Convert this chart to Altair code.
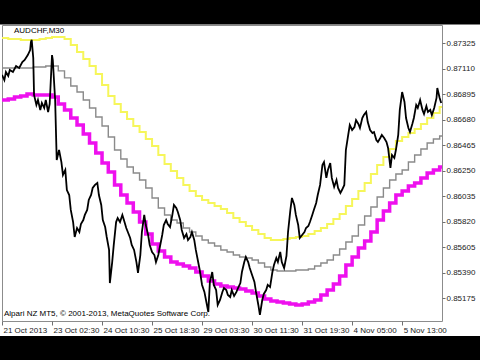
import json
import altair as alt
import pandas as pd

# ---------------- data ----------------
x_ticks = [0, 64, 128, 192, 256, 320, 384, 448, 512]
x_tick_labels = ["21 Oct 2013", "23 Oct 02:30", "24 Oct 10:30", "25 Oct 18:30",
                 "29 Oct 03:30", "30 Oct 11:30", "31 Oct 19:30", "4 Nov 05:00",
                 "5 Nov 13:00"]
y_ticks = [0.85175, 0.85390, 0.85605, 0.85820, 0.86035, 0.86250,
           0.86465, 0.86680, 0.86895, 0.87110, 0.87325]
bar_count = 563
step_bars = 8

price_bar = [0, 3, 5, 8, 10, 14, 18, 22, 26, 29, 33, 36, 37, 38, 40, 41, 44, 46, 49, 51,
             54, 56, 59, 61, 64, 65, 68, 70, 73, 76, 78, 81, 83, 86, 88, 91, 93, 96, 99, 101,
             104, 106, 109, 111, 114, 116, 119, 122, 124, 127, 129, 132, 134, 137, 138, 141, 143, 146, 148, 151,
             154, 156, 159, 161, 164, 166, 169, 172, 174, 177, 179, 182, 184, 187, 189, 192, 195, 197, 200, 202,
             205, 207, 210, 212, 215, 218, 220, 223, 225, 228, 230, 233, 236, 238, 241, 243, 246, 248, 251, 253,
             256, 259, 261, 264, 266, 269, 271, 274, 276, 279, 282, 284, 287, 289, 292, 294, 297, 300, 302, 305,
             307, 310, 312, 315, 317, 320, 323, 325, 328, 330, 333, 335, 338, 340, 343, 346, 348, 351, 353, 356,
             358, 361, 364, 366, 369, 371, 374, 376, 379, 381, 384, 387, 389, 392, 394, 397, 399, 402, 404, 407,
             410, 412, 415, 417, 420, 422, 425, 428, 430, 433, 435, 438, 440, 443, 445, 448, 451, 453, 456, 458,
             461, 463, 466, 468, 471, 474, 476, 479, 481, 484, 486, 489, 492, 494, 497, 499, 502, 504, 507, 509,
             512, 515, 517, 520, 522, 525, 527, 530, 532, 535, 538, 540, 543, 545, 548, 550, 553, 556, 557, 560,
             562]
price_close = [0.87056, 0.87013, 0.87081, 0.87047, 0.87098, 0.87081, 0.87131, 0.87115, 0.87165, 0.87182,
               0.87224, 0.87266, 0.87334, 0.87351, 0.87199, 0.86887, 0.86803, 0.86845, 0.86761, 0.86820,
               0.86778, 0.86845, 0.86744, 0.86811, 0.87224, 0.87182, 0.86845, 0.86339, 0.86423, 0.86322,
               0.86213, 0.86255, 0.86086, 0.86044, 0.85918, 0.85816, 0.85690, 0.85766, 0.85732, 0.85800,
               0.85833, 0.85876, 0.85918, 0.86002, 0.86044, 0.86103, 0.86129, 0.86146, 0.86044, 0.85960,
               0.85833, 0.85774, 0.85690, 0.85581, 0.85302, 0.85479, 0.85623, 0.85816, 0.85850, 0.85816,
               0.85876, 0.85833, 0.85766, 0.85732, 0.85682, 0.85623, 0.85581, 0.85479, 0.85387, 0.85538,
               0.85732, 0.85876, 0.85791, 0.85707, 0.85623, 0.85564, 0.85538, 0.85479, 0.85538, 0.85606,
               0.85707, 0.85791, 0.85833, 0.85800, 0.85774, 0.85876, 0.85960, 0.85935, 0.85901, 0.85833,
               0.85749, 0.85682, 0.85715, 0.85665, 0.85690, 0.85732, 0.85665, 0.85581, 0.85479, 0.85412,
               0.85286, 0.85227, 0.85159, 0.85058, 0.85311, 0.85395, 0.85286, 0.85243, 0.85117, 0.85159,
               0.85227, 0.85260, 0.85243, 0.85201, 0.85184, 0.85243, 0.85193, 0.85227, 0.85260, 0.85302,
               0.85395, 0.85479, 0.85521, 0.85479, 0.85429, 0.85370, 0.85311, 0.85227, 0.85117, 0.85033,
               0.85159, 0.85210, 0.85243, 0.85286, 0.85268, 0.85395, 0.85454, 0.85513, 0.85479, 0.85564,
               0.85479, 0.85429, 0.85530, 0.85732, 0.85918, 0.86019, 0.85960, 0.85876, 0.85791, 0.85682,
               0.85707, 0.85732, 0.85766, 0.85783, 0.85816, 0.85876, 0.85918, 0.85977, 0.86044, 0.86129,
               0.86297, 0.86322, 0.86188, 0.86255, 0.86314, 0.86188, 0.86112, 0.86171, 0.86103, 0.86061,
               0.86086, 0.86129, 0.86423, 0.86550, 0.86634, 0.86592, 0.86617, 0.86676, 0.86643, 0.86609,
               0.86693, 0.86718, 0.86744, 0.86659, 0.86592, 0.86567, 0.86575, 0.86508, 0.86491, 0.86525,
               0.86550, 0.86525, 0.86491, 0.86441, 0.86272, 0.86381, 0.86356, 0.86423, 0.86550, 0.86761,
               0.86912, 0.86828, 0.86693, 0.86609, 0.86575, 0.86643, 0.86693, 0.86803, 0.86778, 0.86845,
               0.86761, 0.86727, 0.86794, 0.86744, 0.86761, 0.86718, 0.86778, 0.86862, 0.86946, 0.86862,
               0.86820]

ma_yellow = [0.87368, 0.87359, 0.87359, 0.87351, 0.87351, 0.87351, 0.87359, 0.87368, 0.87376, 0.87376,
             0.87359, 0.87309, 0.87249, 0.87190, 0.87131, 0.87064, 0.86971, 0.86878, 0.86811, 0.86744,
             0.86685, 0.86625, 0.86575, 0.86516, 0.86457, 0.86381, 0.86305, 0.86247, 0.86188, 0.86129,
             0.86078, 0.86035, 0.86002, 0.85977, 0.85951, 0.85926, 0.85893, 0.85851, 0.85816, 0.85783,
             0.85749, 0.85715, 0.85682, 0.85665, 0.85665, 0.85673, 0.85682, 0.85690, 0.85699, 0.85715,
             0.85741, 0.85766, 0.85800, 0.85842, 0.85884, 0.85951, 0.86010, 0.86078, 0.86146, 0.86221,
             0.86297, 0.86364, 0.86432, 0.86499, 0.86533, 0.86567, 0.86601, 0.86643, 0.86693, 0.86735,
             0.86786]
ma_gray = [0.87115, 0.87115, 0.87115, 0.87115, 0.87115, 0.87123, 0.87123, 0.87132, 0.87132, 0.87090,
           0.87031, 0.86963, 0.86912, 0.86845, 0.86778, 0.86702, 0.86626, 0.86533, 0.86423, 0.86348,
           0.86280, 0.86230, 0.86171, 0.86103, 0.86019, 0.85935, 0.85876, 0.85833, 0.85808, 0.85766,
           0.85732, 0.85699, 0.85665, 0.85640, 0.85614, 0.85581, 0.85564, 0.85538, 0.85521, 0.85513,
           0.85496, 0.85471, 0.85437, 0.85412, 0.85404, 0.85404, 0.85404, 0.85412, 0.85412, 0.85420,
           0.85446, 0.85471, 0.85496, 0.85538, 0.85589, 0.85648, 0.85699, 0.85791, 0.85867, 0.85943,
           0.86027, 0.86103, 0.86171, 0.86221, 0.86255, 0.86322, 0.86381, 0.86432, 0.86482, 0.86516,
           0.86541]
ma_magenta = [0.86845, 0.86853, 0.86870, 0.86879, 0.86895, 0.86887, 0.86887, 0.86887, 0.86870, 0.86811,
              0.86761, 0.86693, 0.86634, 0.86558, 0.86482, 0.86398, 0.86314, 0.86238, 0.86129, 0.86044,
              0.85977, 0.85901, 0.85816, 0.85715, 0.85631, 0.85572, 0.85521, 0.85479, 0.85462, 0.85446,
              0.85429, 0.85395, 0.85361, 0.85319, 0.85294, 0.85277, 0.85268, 0.85260, 0.85252, 0.85235,
              0.85218, 0.85193, 0.85168, 0.85151, 0.85142, 0.85134, 0.85125, 0.85117, 0.85125, 0.85142,
              0.85159, 0.85201, 0.85243, 0.85294, 0.85361, 0.85454, 0.85521, 0.85597, 0.85656, 0.85732,
              0.85833, 0.85909, 0.85977, 0.86044, 0.86078, 0.86120, 0.86146, 0.86188, 0.86230, 0.86255,
              0.86280]

title_text = "AUDCHF,M30"
copyright_text = "Alpari NZ MT5, \u00a9 2001-2013, MetaQuotes Software Corp."

# ---------------- frames ----------------
price_df = pd.DataFrame({"bar": price_bar, "price": price_close})


def step_frame(values):
    bars = [k * step_bars for k in range(len(values))] + [len(values) * step_bars]
    return pd.DataFrame({"bar": bars, "price": list(values) + [values[-1]]})


y_min, y_max = 0.84982, 0.87477
font = "Liberation Sans"
fsize = 8

x_scale = alt.Scale(domain=[0, bar_count], nice=False, zero=False)
y_scale = alt.Scale(domain=[y_min, y_max], nice=False, zero=False)

label_expr = json.dumps(x_tick_labels) + "[round(datum.value / 64)]"

x_axis = alt.Axis(values=x_ticks, labelExpr=label_expr, title=None, grid=False,
                  domain=False, tickSize=4, tickColor="#707070", labelAlign="left",
                  labelOffset=1, labelPadding=1, labelFont=font, labelFontSize=fsize,
                  labelColor="#1a1a1a", labelOverlap=False, labelFlush=False)
y_axis = alt.Axis(values=y_ticks, format=".5f", orient="right", title=None, grid=False,
                  domain=False, tickSize=3, tickColor="#707070", labelPadding=1,
                  labelFont=font, labelFontSize=fsize, labelColor="#1a1a1a",
                  labelOverlap=False, labelFlush=False)


def step_layer(values, color, width):
    return alt.Chart(step_frame(values)).mark_line(
        interpolate="step-after", color=color, strokeWidth=width, clip=True
    ).encode(x=alt.X("bar:Q", scale=x_scale, axis=x_axis),
             y=alt.Y("price:Q", scale=y_scale, axis=y_axis))


yellow = step_layer(ma_yellow, "#f6f65a", 2)
gray = step_layer(ma_gray, "#8a8a8a", 1.4)
magenta = step_layer(ma_magenta, "#ee10ee", 3.5)

price = alt.Chart(price_df).mark_line(color="black", strokeWidth=1.8, clip=True).encode(
    x=alt.X("bar:Q", scale=x_scale, axis=x_axis),
    y=alt.Y("price:Q", scale=y_scale, axis=y_axis))

one = pd.DataFrame({"t": [0]})
title_mark = alt.Chart(one).mark_text(
    text=title_text, align="left", baseline="middle", font=font, fontSize=fsize, color="black"
).encode(x=alt.value(12), y=alt.value(6))
copyright_mark = alt.Chart(one).mark_text(
    text=copyright_text, align="left", baseline="middle", font=font, fontSize=fsize, color="black"
).encode(x=alt.value(2), y=alt.value(289))

top_band = alt.Chart(one).mark_rect(color="black").encode(
    x=alt.value(-2), x2=alt.value(478), y=alt.value(-25), y2=alt.value(-0.6))
bottom_band = alt.Chart(one).mark_rect(color="black").encode(
    x=alt.value(-2), x2=alt.value(478), y=alt.value(311), y2=alt.value(335))

chart = alt.layer(
    yellow, gray, magenta, price, title_mark, copyright_mark, top_band, bottom_band
).properties(
    width=440, height=296,
    autosize=alt.AutoSizeParams(type="none"),
    padding={"left": 2, "top": 25, "right": 38, "bottom": 39},
    background="white",
).configure_view(stroke="#8c8c8c", strokeWidth=1, fill="white")

chart.save("out.html", embed_options={"renderer": "svg", "actions": False})
